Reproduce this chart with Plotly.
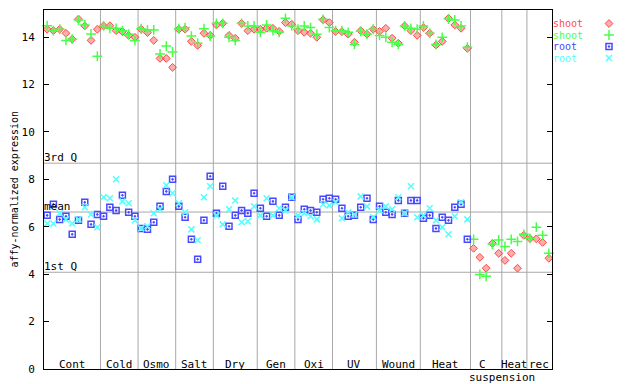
import numpy as np
import plotly.graph_objects as go

# ---------------- data ----------------
groups = ["Cont", "Cold", "Osmo", "Salt", "Dry", "Gen", "Oxi", "UV", "Wound", "Heat", "C", "Heat", "rec"]
group_sizes = [9, 6, 6, 6, 7, 6, 6, 7, 7, 8, 5, 4, 4]

shoot_red = [14.33, 14.27, 14.33, 14.16, 13.91, 14.76, 14.47, 13.86, 14.33,
             14.47, 14.48, 14.27, 14.23, 14.07, 13.99,
             14.33, 14.19, 13.86, 13.10, 13.10, 12.72,
             14.33, 14.33, 13.82, 13.65, 14.16, 14.07,
             14.51, 14.58, 14.07, 13.95, 14.58, 14.27, 14.33,
             14.33, 14.37, 14.37, 14.24, 14.61, 14.54,
             14.27, 14.20, 14.16, 13.99, 14.73, 14.61,
             14.23, 14.23, 14.12, 13.78, 14.27, 14.12, 14.33,
             14.24, 14.37, 13.95, 13.74, 14.47, 14.27, 14.07,
             14.40, 14.16, 13.66, 13.82, 14.79, 14.51, 14.37, 13.52,
             5.09, 4.71, 4.25, 5.30, 4.88,
             4.58, 4.88, 4.25, 5.64,
             5.50, 5.49, 5.34, 4.67]
shoot_green = [14.48, 14.27, 14.33, 13.86, 13.91, 14.72, 14.51, 14.13, 13.19,
               14.47, 14.37, 14.37, 14.27, 14.12, 13.86,
               14.35, 14.30, 14.30, 13.29, 13.62, 13.37,
               14.35, 14.40, 14.04, 13.74, 14.35, 14.04,
               14.58, 14.58, 13.99, 13.86, 14.58, 14.47, 14.47,
               14.20, 14.51, 14.27, 14.20, 14.79, 14.47,
               14.33, 14.47, 14.40, 14.12, 14.75, 14.40,
               14.27, 14.27, 14.20, 13.69, 14.24, 14.12, 14.33,
               14.07, 13.99, 13.78, 13.69, 14.47, 14.37, 14.33,
               14.47, 14.16, 13.69, 13.99, 14.76, 14.72, 14.47, 13.57,
               5.47, 3.99, 3.91, 5.27, 5.44,
               5.17, 5.47, 5.38, 5.68,
               5.51, 5.98, 5.64, 4.88]
root_blue = [6.48, 6.95, 6.31, 6.44, 5.68, 6.27, 7.03, 6.10, 6.52,
             6.44, 6.82, 6.69, 7.33, 6.61, 6.44,
             5.93, 5.89, 6.19, 6.86, 7.49, 8.00,
             6.86, 6.40, 5.47, 4.63, 6.27, 8.13,
             6.57, 7.71, 6.02, 6.48, 6.69, 6.57, 7.41,
             6.78, 6.44, 7.07, 6.48, 6.82, 7.24,
             6.31, 6.74, 6.69, 6.61, 7.16, 7.20,
             7.16, 6.78, 6.44, 6.48, 6.82, 7.20, 6.31,
             6.86, 6.61, 6.52, 7.11, 6.57, 7.11, 7.11,
             6.36, 6.48, 5.93, 6.40, 6.27, 6.82, 6.95, 5.47]
root_cyan = [6.14, 6.14, 6.57, 6.31, 6.14, 6.31, 6.82, 6.52, 5.98,
             7.24, 7.20, 8.00, 7.07, 6.99, 6.27,
             5.93, 6.02, 6.57, 6.74, 7.75, 7.41,
             6.99, 6.61, 5.89, 5.43, 7.24, 7.71,
             6.48, 6.10, 6.74, 7.11, 6.19, 6.23, 6.86,
             6.48, 7.20, 6.48, 6.78, 6.69, 7.24,
             6.48, 6.57, 6.44, 6.31, 6.95, 6.90,
             7.03, 6.36, 6.61, 6.52, 7.28, 6.86, 6.40,
             6.69, 6.86, 6.74, 7.24, 6.57, 7.71, 6.40,
             6.48, 6.78, 6.27, 5.98, 5.68, 6.44, 7.03, 6.31]

quartile_labels = ["3rd Q", "mean", "1st Q"]
quartile_values = [8.68, 6.62, 4.08]
y_ticks = [0, 2, 4, 6, 8, 10, 12, 14]
legend_labels = ["shoot", "shoot", "root", "root"]
y_title = "affy-normalized expression"

# ---------------- styling ----------------
FONT = "DejaVu Sans Mono"
RED, GREEN, BLUE, CYAN = "#ff4848", "#48ff48", "#4848ff", "#50ffff"
GRID = "#a8a8a8"
OFF = 8                      # page body margin of the browser
W, H = 640 - OFF, 384 - OFF
ML, MT, MB = 44 - OFF, 10 - OFF, 384 - 369
PLOT_W = 508
AREA_W = W - ML
XDOM = PLOT_W / AREA_W

x_shoot = np.arange(1, len(shoot_red) + 1)
x_root = np.arange(1, len(root_blue) + 1)

fig = go.Figure()

marks = [
    dict(symbol="diamond", size=6, color="rgba(255,72,72,0.45)", line=dict(color=RED, width=1)),
    dict(symbol="cross-thin-open", size=7, color=GREEN, line=dict(color=GREEN, width=1.5)),
    dict(symbol="square-open-dot", size=6, color=BLUE, line=dict(color=BLUE, width=1.5)),
    dict(symbol="x-thin-open", size=6, color=CYAN, line=dict(color=CYAN, width=1.5)),
]
series = [(x_shoot, shoot_red), (x_shoot, shoot_green), (x_root, root_blue), (x_root, root_cyan)]
for (xs, ys), mk in zip(series, marks):
    fig.add_trace(go.Scatter(x=xs, y=ys, mode="markers", marker=mk,
                             showlegend=False, hoverinfo="skip", cliponaxis=False))

# legend glyphs on a hidden pixel-scaled axis pair (figure pixels)
legend_px_x = 609 - OFF
legend_px_y = [23.5 - OFF, 35 - OFF, 46.5 - OFF, 58 - OFF]
for yy, mk in zip(legend_px_y, marks):
    fig.add_trace(go.Scatter(x=[legend_px_x], y=[yy], mode="markers", marker=mk,
                             xaxis="x2", yaxis="y2", showlegend=False,
                             hoverinfo="skip", cliponaxis=False))

ymax = (369 - 10) / 23.71
n_total = sum(group_sizes)

shapes = []
bounds = np.cumsum(group_sizes)
for b in bounds[:-1]:
    shapes.append(dict(type="line", xref="x", yref="y", x0=b + 0.5, x1=b + 0.5,
                       y0=0, y1=ymax, line=dict(color=GRID, width=1), layer="below"))
for qv in quartile_values:
    shapes.append(dict(type="line", xref="x domain", yref="y", x0=0, x1=1, y0=qv, y1=qv,
                       line=dict(color=GRID, width=1), layer="below"))

tf = dict(family=FONT, size=11, color="black")
annotations = []
for lab, qv in zip(quartile_labels, quartile_values):
    annotations.append(dict(text=lab, xref="x domain", yref="y", x=0, y=qv,
                            xanchor="left", yanchor="bottom", showarrow=False,
                            font=tf, xshift=-1, yshift=-2, borderpad=0))
starts = np.concatenate([[0], bounds[:-1]])
for lab, s, n in zip(groups, starts, group_sizes):
    cx = s + (n + 1) / 2
    if lab == "C":
        annotations.append(dict(text=lab, xref="x", yref="y", x=cx - 0.6, y=0,
                                xanchor="center", yanchor="bottom", showarrow=False,
                                font=tf, yshift=-3, borderpad=0))
        annotations.append(dict(text="suspension", xref="x", yref="paper", x=cx + 2.5, y=0,
                                xanchor="center", yanchor="middle", showarrow=False,
                                font=tf, yshift=-8, borderpad=0, height=11))
    else:
        annotations.append(dict(text=lab, xref="x", yref="y", x=cx, y=0,
                                xanchor="center", yanchor="bottom", showarrow=False,
                                font=tf, yshift=-3, borderpad=0))
for lab, yy, col in zip(legend_labels, legend_px_y, [RED, GREEN, BLUE, CYAN]):
    annotations.append(dict(text=lab, xref="paper", yref="y2", x=XDOM, y=yy,
                            xanchor="left", yanchor="middle", showarrow=False,
                            font=dict(family=FONT, size=10, color=col),
                            borderpad=0, height=11))
# y axis title
annotations.append(dict(text=y_title, xref="paper", yref="paper",
                        x=(14 - 44) / AREA_W, y=0.5, xanchor="center", yanchor="middle",
                        textangle=-90, showarrow=False,
                        font=dict(family=FONT, size=10, color="black"), borderpad=0))

x2_start = ML + 0.87 * AREA_W
fig.update_layout(
    width=W, height=H,
    margin=dict(l=ML, r=0, t=MT, b=MB, pad=0, autoexpand=False),
    paper_bgcolor="white", plot_bgcolor="white",
    font=tf,
    xaxis=dict(domain=[0, XDOM], range=[0.5, n_total + 0.5], showline=True, mirror=True,
               linecolor="black", linewidth=1, ticks="", showticklabels=False,
               showgrid=False, zeroline=False, fixedrange=True, automargin=False),
    yaxis=dict(range=[0, ymax], tickvals=y_ticks, ticks="inside", ticklen=5,
               tickcolor="black", showline=True, mirror="ticks", linecolor="black",
               linewidth=1, showgrid=False, zeroline=False, automargin=False,
               ticklabelstandoff=6, tickfont=dict(family=FONT, size=11)),
    xaxis2=dict(domain=[0.87, 1], range=[x2_start, W], visible=False, anchor="y2"),
    yaxis2=dict(domain=[0, 1], range=[H - MB, MT], visible=False, anchor="x2"),
    shapes=shapes,
    annotations=annotations,
    showlegend=False,
)

fig.write_html("out.html")
